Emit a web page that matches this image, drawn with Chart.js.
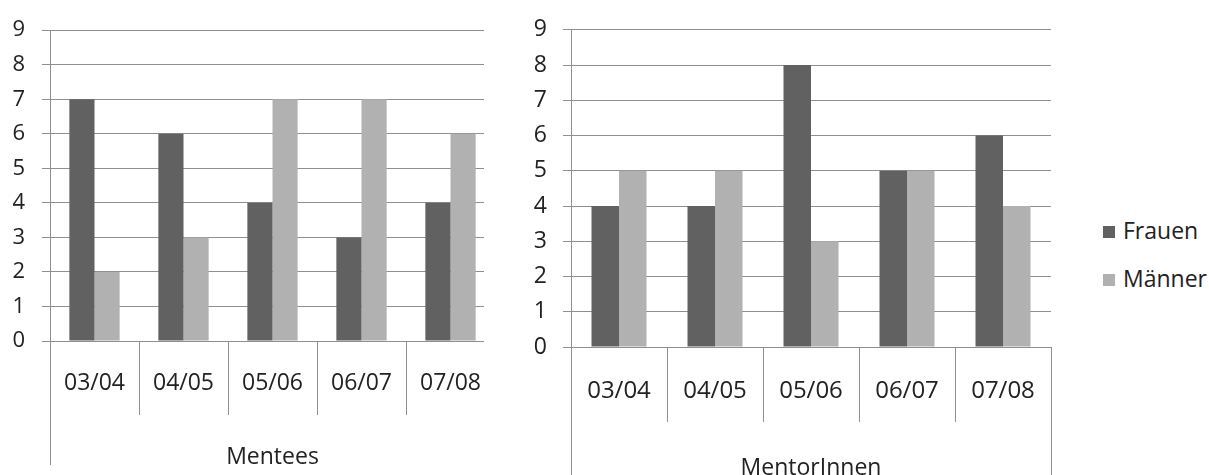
<!DOCTYPE html>
<html lang="de">
<head>
<meta charset="utf-8">
<title>Mentees und MentorInnen nach Geschlecht</title>
<script src="https://cdn.jsdelivr.net/npm/chart.js@4/dist/chart.umd.min.js"></script>
<style>
  html, body { margin: 0; padding: 0; background: #fff; }
  body { width: 1209px; height: 475px; position: relative; overflow: hidden; font-family: "Open Sans", sans-serif; }
  .panel { position: absolute; top: 0; background: #fff; }
  #mentees { left: 0; width: 500px; height: 475px; }
  #mentoren { left: 484px; width: 600px; height: 475px; }
  #legend { position: absolute; left: 1103px; top: 0; }
  .item { position: absolute; left: 0; white-space: nowrap; font-size: 23px; color: #222; line-height: 28px; }
  .item span.box { display: inline-block; width: 12px; height: 12px; margin-right: 8px; vertical-align: 1px; }
</style>
</head>
<body>
<div class="panel" id="mentees"><canvas id="c1" width="500" height="475"></canvas></div>
<div class="panel" id="mentoren"><canvas id="c2" width="600" height="475"></canvas></div>
<div id="legend"></div>
<script>
// Academic years
const categories = ['03/04', '04/05', '05/06', '06/07', '07/08'];
// Series
const seriesNames = ['Frauen', 'Männer'];
const seriesColors = ['#616161', '#b1b1b1'];
// Mentees per year
const menteesFrauen = [7, 6, 4, 3, 4];
const menteesMaenner = [2, 3, 7, 7, 6];
// MentorInnen per year
const mentorFrauen = [4, 4, 8, 5, 6];
const mentorMaenner = [5, 5, 3, 5, 4];
// Value axis
const yMin = 0;
const yMax = 9;
const yStep = 1;

const gridColor = '#8f8f8f';
const textColor = '#222';
const fontFamily = '"Open Sans", sans-serif';

// Extends the outer category boundaries below the plot, as in a grouped category axis
const axisExtension = {
  id: 'axisExtension',
  afterDraw(chart, args, opts) {
    const { ctx, chartArea } = chart;
    ctx.save();
    ctx.strokeStyle = gridColor;
    ctx.lineWidth = 1;
    ctx.beginPath();
    opts.edges.forEach(edge => {
      const x = Math.round(edge === 'left' ? chartArea.left : chartArea.right) + 0.5;
      ctx.moveTo(x, chartArea.bottom);
      ctx.lineTo(x, opts.to);
    });
    ctx.stroke();
    ctx.restore();
  }
};

function makeChart(canvasId, title, frauen, maenner, cfg) {
  return new Chart(document.getElementById(canvasId), {
    type: 'bar',
    data: {
      labels: categories,
      datasets: [
        { label: seriesNames[0], data: frauen, backgroundColor: seriesColors[0] },
        { label: seriesNames[1], data: maenner, backgroundColor: seriesColors[1] }
      ]
    },
    options: {
      responsive: false,
      animation: false,
      events: [],
      layout: { padding: { left: 0, right: cfg.padRight, top: cfg.top, bottom: 0 } },
      datasets: { bar: { categoryPercentage: cfg.groupShare, barPercentage: 1, borderWidth: 0 } },
      plugins: {
        legend: { display: false },
        tooltip: { enabled: false },
        axisExtension: { edges: cfg.edges, to: cfg.extendTo }
      },
      scales: {
        x: {
          afterFit: s => { s.height = cfg.xHeight; },
          grid: {
            offset: true,
            drawOnChartArea: false,
            drawTicks: true,
            tickLength: cfg.sepLength,
            color: gridColor,
            lineWidth: 1
          },
          border: { display: true, color: gridColor, width: 1 },
          ticks: {
            color: textColor,
            font: { family: fontFamily, size: cfg.xFont },
            padding: cfg.xLabelPad,
            maxRotation: 0,
            autoSkip: false
          },
          title: {
            display: true,
            text: title,
            color: textColor,
            font: { family: fontFamily, size: cfg.titleFont },
            padding: { top: 0, bottom: cfg.titlePad }
          }
        },
        y: {
          min: yMin,
          max: yMax,
          afterFit: s => { s.width = cfg.yWidth; },
          grid: { color: gridColor, lineWidth: 1, tickLength: 8 },
          border: { display: true, color: gridColor, width: 1 },
          ticks: {
            stepSize: yStep,
            color: textColor,
            font: { family: fontFamily, size: cfg.yFont },
            padding: cfg.yLabelPad
          }
        }
      }
    },
    plugins: [axisExtension]
  });
}

makeChart('c1', 'Mentees', menteesFrauen, menteesMaenner, {
  padRight: 5, top: 27, yWidth: 50, xHeight: 134, sepLength: 74,
  groupShare: 0.565, edges: ['left'], extendTo: 465,
  xFont: 23, yFont: 22, titleFont: 23, xLabelPad: -45, yLabelPad: 17, titlePad: 4
});

makeChart('c2', 'MentorInnen', mentorFrauen, mentorMaenner, {
  padRight: 33, top: 28, yWidth: 87, xHeight: 128, sepLength: 75,
  groupShare: 0.573, edges: ['left', 'right'], extendTo: 475,
  xFont: 24, yFont: 23, titleFont: 23, xLabelPad: -45, yLabelPad: 16, titlePad: -7
});

// Legend built from the series definitions
const legend = document.getElementById('legend');
seriesNames.forEach((name, i) => {
  const item = document.createElement('div');
  item.className = 'item';
  item.style.top = (216 + i * 48) + 'px';
  const box = document.createElement('span');
  box.className = 'box';
  box.style.background = seriesColors[i];
  item.appendChild(box);
  item.appendChild(document.createTextNode(name));
  legend.appendChild(item);
});
</script>
</body>
</html>
